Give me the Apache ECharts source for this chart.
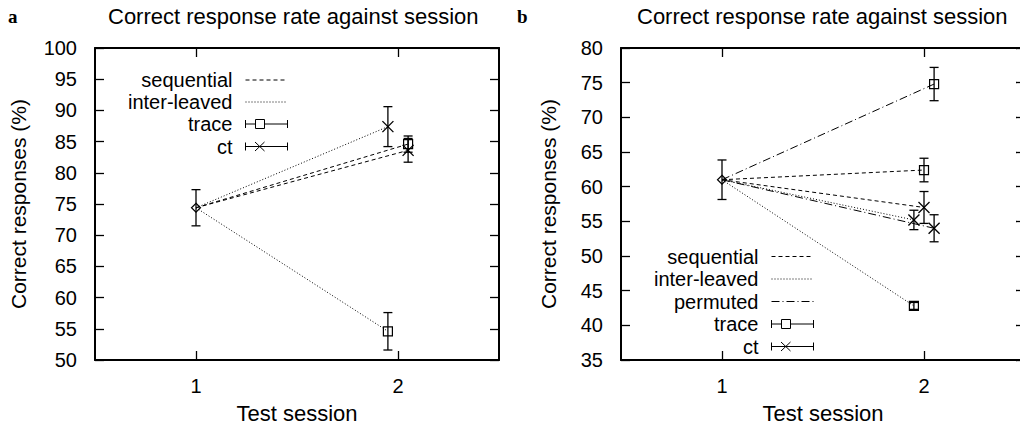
<!DOCTYPE html>
<html><head><meta charset="utf-8">
<script src="https://cdn.jsdelivr.net/npm/echarts@6/dist/echarts.min.js"></script>
<style>html,body{margin:0;padding:0;background:#fff;overflow:hidden;width:1020px;height:429px}
#c{width:1040px;height:429px}</style></head><body><div id="c"></div>
<script>
// ---------------- data ----------------
const sessionTicks = [1, 2];
const panelTitle = 'Correct response rate against session';
const xName = 'Test session';
const yName = 'Correct responses (%)';
// panel a
const conditionsA = ['sequential', 'inter-leaved'];
const startA = [74.4, 2.9];            // session 1: mean, error
const traceMeanA = [84.6, 54.6];
const traceErrA  = [1.3, 3.0];
const ctMeanA    = [83.6, 87.4];
const ctErrA     = [1.9, 3.2];
// panel b
const conditionsB = ['sequential', 'inter-leaved', 'permuted'];
const startB = [61.0, 2.85];
const traceMeanB = [62.4, 42.8, 74.8];
const traceErrB  = [1.7, 0.5, 2.4];
const ctMeanB    = [57.0, 55.2, 54.0];
const ctErrB     = [2.3, 1.4, 1.95];

// ---------------- styles / layout ----------------
const FONT = 'Liberation Sans';
const jitterA = [0.05, -0.05];
const jitterB = [0, -0.05, 0.05];
const dash = {'sequential': [4, 3], 'inter-leaved': [1, 2], 'permuted': [8, 3, 1, 3]};

function errItem(kind) {
  return function (params, api) {
    const x = api.value(0), y = api.value(1), e = api.value(2);
    const c = api.coord([x, y]), hi = api.coord([x, y + e]), lo = api.coord([x, y - e]);
    const cap = 4.5, m = 4.5;
    const st = {stroke: '#000', lineWidth: 1.3, fill: 'none'};
    const ch = [
      {type: 'line', shape: {x1: c[0], y1: hi[1], x2: c[0], y2: lo[1]}, style: st},
      {type: 'line', shape: {x1: c[0] - cap, y1: hi[1], x2: c[0] + cap, y2: hi[1]}, style: st},
      {type: 'line', shape: {x1: c[0] - cap, y1: lo[1], x2: c[0] + cap, y2: lo[1]}, style: st}
    ];
    if (kind === 'square') {
      ch.push({type: 'rect', shape: {x: c[0] - m, y: c[1] - m, width: 2 * m, height: 2 * m},
               style: {stroke: '#000', lineWidth: 1.2, fill: 'none'}});
    } else if (kind === 'cross') {
      const k = m + 1;
      ch.push({type: 'line', shape: {x1: c[0] - k, y1: c[1] - k, x2: c[0] + k, y2: c[1] + k}, style: st});
      ch.push({type: 'line', shape: {x1: c[0] - k, y1: c[1] + k, x2: c[0] + k, y2: c[1] - k}, style: st});
    } else {
      ch.push({type: 'polygon', shape: {points: [[c[0], c[1] - m], [c[0] + m, c[1]], [c[0], c[1] + m], [c[0] - m, c[1]]]},
               style: {stroke: '#000', lineWidth: 1.2, fill: 'none'}});
    }
    return {type: 'group', children: ch};
  };
}

function panelSeries(gi, conds, start, tMean, tErr, cMean, cErr, jit) {
  const s = [];
  const ax = {xAxisIndex: gi * 2, yAxisIndex: gi * 2};
  conds.forEach((c, i) => {
    const x2 = sessionTicks[1] + jit[i];
    [tMean[i], cMean[i]].forEach(v => s.push(Object.assign({
      type: 'line', name: c, data: [[sessionTicks[0], start[0]], [x2, v]],
      symbol: 'none', silent: true, z: 2, animation: false,
      lineStyle: {color: '#000', width: 1, type: dash[c]}, itemStyle: {color: '#000'}
    }, ax)));
  });
  s.push(Object.assign({type: 'custom', name: 'trace', z: 3, animation: false, encode: {x: 0, y: 1},
    data: conds.map((c, i) => [sessionTicks[1] + jit[i], tMean[i], tErr[i]]), renderItem: errItem('square')}, ax));
  s.push(Object.assign({type: 'custom', name: 'ct', z: 3, animation: false, encode: {x: 0, y: 1},
    data: conds.map((c, i) => [sessionTicks[1] + jit[i], cMean[i], cErr[i]]), renderItem: errItem('cross')}, ax));
  s.push(Object.assign({type: 'custom', name: 'start', z: 3, animation: false, encode: {x: 0, y: 1},
    data: [[sessionTicks[0], start[0], start[1]]], renderItem: errItem('diamond')}, ax));
  return s;
}

const axLine = {show: true, lineStyle: {color: '#000', width: 2}};
const tick = {show: true, inside: true, length: 9, lineStyle: {color: '#000', width: 1.3}};
const lbl = {color: '#000', fontSize: 20, fontFamily: FONT};

function xAxes(gi) {
  return [
    {type: 'value', gridIndex: gi, position: 'bottom', min: 0.5, max: 2.5,
     axisLine: axLine, axisTick: Object.assign({customValues: sessionTicks}, tick),
     axisLabel: Object.assign({customValues: sessionTicks, margin: 16}, lbl), splitLine: {show: false},
     name: xName, nameLocation: 'middle', nameGap: 42, nameTextStyle: {color: '#000', fontSize: 22, fontFamily: FONT}},
    {type: 'value', gridIndex: gi, position: 'top', min: 0.5, max: 2.5,
     axisLine: axLine, axisTick: Object.assign({customValues: sessionTicks}, tick),
     axisLabel: {show: false}, splitLine: {show: false}}
  ];
}
function yAxes(gi, mn, mx, gap) {
  return [
    {type: 'value', gridIndex: gi, position: 'left', min: mn, max: mx, interval: 5,
     axisLine: axLine, axisTick: tick, axisLabel: Object.assign({margin: 18}, lbl), splitLine: {show: false},
     name: yName, nameLocation: 'middle', nameGap: gap, nameRotate: 90,
     nameTextStyle: {color: '#000', fontSize: 21, fontFamily: FONT}},
    {type: 'value', gridIndex: gi, position: 'right', min: mn, max: mx, interval: 5,
     axisLine: axLine, axisTick: tick, axisLabel: {show: false}, splitLine: {show: false}}
  ];
}

const icons = {
  line: 'path://M0 0M50 12M8 6L50 6',
  trace: 'path://M0 0M50 12M8 2L8 10M8 6L18 6M18 1.5L27 1.5L27 10.5L18 10.5ZM27 6L50 6M50 2L50 10',
  ct: 'path://M0 0M50 12M8 2L8 10M8 6L50 6M50 2L50 10M17.5 1.5L27 10.5M17.5 10.5L27 1.5'
};
function legendItem(name, right, cy) {
  const isLine = !!dash[name];
  return {
    data: [{name: name, icon: isLine ? icons.line : icons[name],
            itemStyle: {color: 'none', borderColor: '#000', borderWidth: 1, borderType: isLine ? dash[name] : 'solid'}}],
    orient: 'vertical', align: 'right', right: right, top: cy - 11, padding: 0,
    itemWidth: 50, itemHeight: 12, selectedMode: false,
    textStyle: {fontSize: 20, fontFamily: FONT, color: '#000', lineHeight: 22}
  };
}
const W = 1040;
const legendNamesA = conditionsA.concat(['trace', 'ct']);
const legendNamesB = conditionsB.concat(['trace', 'ct']);
const legendRowsA = [80, 102, 124, 146.5];
const legendRowsB = [256.5, 279, 301.5, 324, 346.5];
const legends = legendNamesA.map((n, i) => legendItem(n, W - 290, legendRowsA[i]))
  .concat(legendNamesB.map((n, i) => legendItem(n, W - 816, legendRowsB[i])));

const chart = echarts.init(document.getElementById('c'), null, {renderer: 'svg'});
chart.setOption({
  animation: false,
  backgroundColor: '#fff',
  title: [
    {text: 'a', left: 8, top: 7, padding: 0, textStyle: {fontFamily: 'Liberation Serif', fontWeight: 'bold', fontSize: 19, color: '#000'}},
    {text: 'b', left: 517, top: 7, padding: 0, textStyle: {fontFamily: 'Liberation Serif', fontWeight: 'bold', fontSize: 19, color: '#000'}},
    {text: panelTitle, left: 108, top: 5, padding: 0, textStyle: {fontFamily: FONT, fontWeight: 'normal', fontSize: 22, color: '#000'}},
    {text: panelTitle, left: 637, top: 5, padding: 0, textStyle: {fontFamily: FONT, fontWeight: 'normal', fontSize: 22, color: '#000'}}
  ],
  legend: legends,
  grid: [
    {left: 95, top: 48, width: 404, height: 313},
    {left: 621, top: 48, width: 404, height: 313}
  ],
  xAxis: xAxes(0).concat(xAxes(1)),
  yAxis: yAxes(0, 50, 100, 66).concat(yAxes(1, 35, 80, 62)),
  series: panelSeries(0, conditionsA, startA, traceMeanA, traceErrA, ctMeanA, ctErrA, jitterA)
    .concat(panelSeries(1, conditionsB, startB, traceMeanB, traceErrB, ctMeanB, ctErrB, jitterB))
});
</script></body></html>
